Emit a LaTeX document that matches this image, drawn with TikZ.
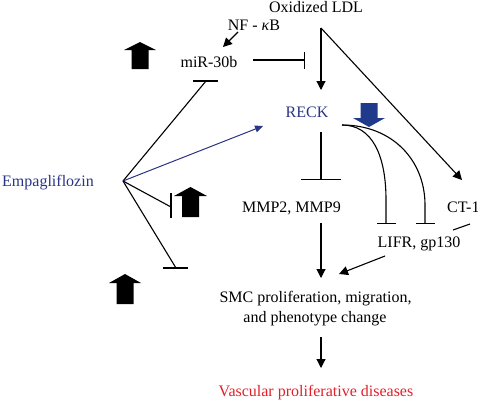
\documentclass[tikz,border=0pt]{standalone}
\usepackage{fontspec}
\setmainfont{Liberation Serif}
\usetikzlibrary{arrows.meta}
\definecolor{navy}{HTML}{2B3586}
\definecolor{arrowblue}{HTML}{1F3A8A}
\definecolor{disred}{HTML}{E0202A}
\begin{document}
\begin{tikzpicture}[x=1pt,y=-1pt,
  lbl/.style={inner sep=0pt, anchor=base, font=\fontsize{16}{19}\selectfont},
  conn/.style={line width=1.1pt},
  act/.style={conn, -{Triangle[length=9pt,width=9pt]}},
  inh/.style={conn, -{Bar[width=#1]}},
  blockarrow/.style={fill=black}
]
\useasboundingbox (0,0) rectangle (478,400);

% texts
\node[lbl] (ox) at (316,12) {Oxidized LDL};
\node[lbl] (nf) at (254,30) {NF - \textit{κ}B};
\node[lbl] (mir) at (209,67) {miR-30b};
\node[lbl,text=navy] (reck) at (307,117) {RECK};
\node[lbl] (mmp) at (291.5,212) {MMP2, MMP9};
\node[lbl,anchor=base west] (ct) at (447,212) {CT-1};
\node[lbl] (lifr) at (419,247) {LIFR, gp130};
\node[lbl] (smc1) at (315.5,302) {SMC proliferation, migration,};
\node[lbl] (smc2) at (315,322) {and phenotype change};
\node[lbl,text=disred] (vpd) at (316,396) {Vascular proliferative diseases};
\node[lbl,anchor=base west,text=navy] (emp) at (2,186) {Empagliflozin};

% connector end points
\coordinate (oxs) at (321,28);
\coordinate (reckin) at (321,90);
\coordinate (ctin) at (462,180);
\coordinate (nfs) at (238,32);
\coordinate (mirin) at (223,47);
\coordinate (mirs) at (253,60);
\coordinate (mire) at (305,60);
\coordinate (recks) at (321,132);
\coordinate (mmpbar) at (321,180);
\coordinate (reckc) at (342,125);
\coordinate (lifrbarA) at (386,224);
\coordinate (lifrbarB) at (425,224);
\coordinate (mmps) at (321,223);
\coordinate (smcin) at (321,278);
\coordinate (lifrs) at (385,256);
\coordinate (smcinB) at (339,274);
\coordinate (cts) at (470,224);
\coordinate (ctlifr) at (453,230);
\coordinate (smcs) at (321,337);
\coordinate (vpdin) at (321,368);
\coordinate (ev) at (123,181);
\coordinate (emir) at (206,81);
\coordinate (ereck) at (263,126);
\coordinate (eup) at (171,207);
\coordinate (ebot) at (176,268);

% connectors
\draw[act] (oxs) -- (reckin);
\draw[act] (oxs) -- (ctin);
\draw[act] (nfs) -- (mirin);
\draw[inh=17pt] (mirs) -- (mire);
\draw[inh=40pt] (recks) -- (mmpbar);
\draw[inh=19pt] (reckc) .. controls (372,125) and (386,155) .. (386,200) -- (lifrbarA);
\draw[inh=19pt] (reckc) .. controls (392,125) and (425,160) .. (425,205) -- (lifrbarB);
\draw[act] (mmps) -- (smcin);
\draw[act] (lifrs) -- (smcinB);
\draw[conn] (cts) -- (ctlifr);
\draw[act] (smcs) -- (vpdin);

% empagliflozin effects
\draw[conn] (ev) -- (emir);
\draw[conn] ([xshift=-13pt]emir) -- ([xshift=12pt]emir);
\draw[line width=1pt, navy, -{Triangle[length=8pt,width=7pt]}] (ev) -- (ereck);
\draw[conn] (ev) -- (eup);
\draw[conn] ([yshift=14pt]eup) -- ([yshift=-11pt]eup);
\draw[conn] (ev) -- (ebot);
\draw[conn] ([xshift=-13pt]ebot) -- ([xshift=12pt]ebot);

% block arrows
\fill[blockarrow] (140,42) -- (156,50) -- (148.5,50) -- (148.5,69) -- (131.5,69) -- (131.5,50) -- (124,50) -- cycle;
\fill[blockarrow] (190.5,187) -- (207,196) -- (199,196) -- (199,217) -- (182,217) -- (182,196) -- (174,196) -- cycle;
\fill[blockarrow] (125,274) -- (141,283) -- (133.5,283) -- (133.5,304) -- (116.5,304) -- (116.5,283) -- (109,283) -- cycle;
\fill[blockarrow, fill=arrowblue] (369,127) -- (385,118) -- (377.5,118) -- (377.5,103) -- (360.5,103) -- (360.5,118) -- (353,118) -- cycle;
\end{tikzpicture}
\end{document}
